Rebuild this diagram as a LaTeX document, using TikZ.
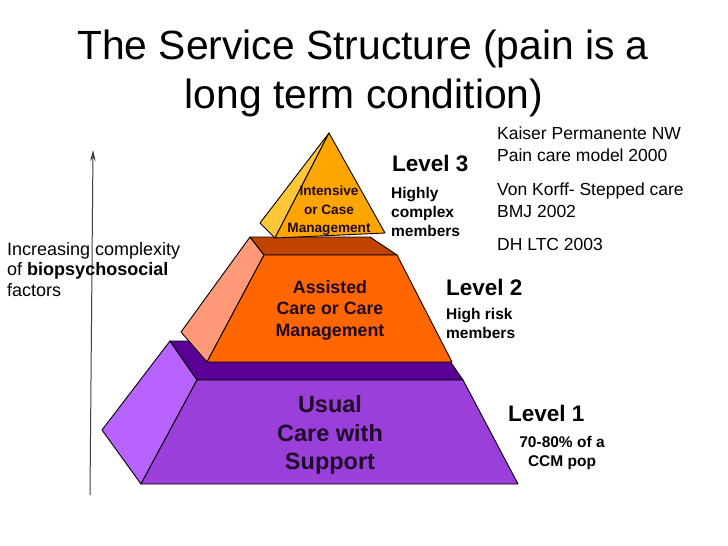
\documentclass[tikz,border=0pt]{standalone}
\usepackage{fontspec}
\setmainfont{Liberation Sans}
\usetikzlibrary{arrows.meta}
\definecolor{purFront}{HTML}{9B3FDB}
\definecolor{purSide}{HTML}{B862FF}
\definecolor{purTop}{HTML}{5A0096}
\definecolor{orFront}{HTML}{FF6600}
\definecolor{orSide}{HTML}{FF9977}
\definecolor{orTop}{HTML}{C04400}
\definecolor{yeFront}{HTML}{FFA500}
\definecolor{yeSide}{HTML}{FFC637}
\definecolor{tierText}{HTML}{1E0A28}
\definecolor{arrowGrey}{HTML}{404040}
\tikzset{
  face/.style={draw=black, line width=0.9pt, line join=round},
  ttl/.style={anchor=base, inner sep=0pt, font=\fontsize{40.8}{40.8}\selectfont},
  refline/.style={anchor=base west, inner sep=0pt, font=\fontsize{17.5}{17.5}\selectfont},
  sideline/.style={anchor=base west, inner sep=0pt, font=\fontsize{18}{18}\selectfont},
  lvl/.style={anchor=base west, inner sep=0pt, font=\bfseries\fontsize{22.5}{22.5}\selectfont},
  subline/.style={anchor=base west, inner sep=0pt, font=\bfseries\fontsize{15.5}{15.5}\selectfont},
  subc/.style={anchor=base, inner sep=0pt, font=\bfseries\fontsize{15.5}{15.5}\selectfont},
  tierA/.style={anchor=base, inner sep=0pt, text=tierText, font=\bfseries\fontsize{23.5}{23.5}\selectfont},
  tierB/.style={anchor=base, inner sep=0pt, text=tierText, font=\bfseries\fontsize{17.8}{17.8}\selectfont},
  tierC/.style={anchor=base, inner sep=0pt, text=tierText, font=\bfseries\fontsize{13.6}{13.6}\selectfont},
  upArrow/.style={draw=arrowGrey, line width=1pt, -{Stealth[length=11pt,width=5.5pt]}}
}
\begin{document}
\begin{tikzpicture}[x=1pt,y=-1pt]
\useasboundingbox (0,0) rectangle (728,546);
\fill[white] (0,0) rectangle (728,546);

% bottom tier
\filldraw[face, fill=purSide] (170,341) -- (102,430) -- (141,484) -- (197,380) -- cycle;
\filldraw[face, fill=purTop] (170,341) -- (436,341) -- (463,380) -- (197,380) -- cycle;
\filldraw[face, fill=purFront] (197,380) -- (463,380) -- (518,484) -- (141,484) -- cycle;

% middle tier
\filldraw[face, fill=orSide] (250,237) -- (181,332) -- (207,362) -- (264,255) -- cycle;
\filldraw[face, fill=orTop] (250,237) -- (370,237) -- (397,255) -- (264,255) -- cycle;
\filldraw[face, fill=orFront] (264,255) -- (397,255) -- (452,362) -- (207,362) -- cycle;

% top pyramid
\filldraw[face, fill=yeSide] (329,133) -- (260,223) -- (275,238) -- cycle;
\filldraw[face, fill=yeFront] (329,133) -- (385,233) -- (275,238) -- cycle;

% arrow
\coordinate (arrBot) at (90,495);
\coordinate (arrTop) at (93,150);
\draw[upArrow] (arrBot) -- (arrTop);

% title
\node[ttl] (t1) at (363,59) {The Service Structure (pain is a};
\node[ttl] (t2) at (364,108) {long term condition)};

% tier texts
\node[tierA] (u1) at (330,412) {Usual};
\node[tierA] (u2) at (330,441) {Care with};
\node[tierA] (u3) at (330,469) {Support};
\node[tierB] (a1) at (330,293) {Assisted};
\node[tierB] (a2) at (330,314.5) {Care or Care};
\node[tierB] (a3) at (330,336) {Management};
\node[tierC] (i1) at (329,195) {Intensive};
\node[tierC] (i2) at (329,214) {or Case};
\node[tierC] (i3) at (329,232) {Management};

% level labels
\node[lvl] (l3) at (392,171) {Level 3};
\node[subline] (l3a) at (391,198.5) {Highly};
\node[subline] (l3b) at (391,217.5) {complex};
\node[subline] (l3c) at (391,236) {members};
\node[lvl] (l2) at (446,295) {Level 2};
\node[subline] (l2a) at (446,319) {High risk};
\node[subline] (l2b) at (446,338) {members};
\node[lvl] (l1) at (508,421) {Level 1};
\node[subc] (l1a) at (562,447.5) {70-80\% of a};
\node[subc] (l1b) at (562,466.5) {CCM pop};

% references
\node[refline] (r1) at (497,139.5) {Kaiser Permanente NW};
\node[refline] (r2) at (497,161.5) {Pain care model 2000};
\node[refline] (r3) at (497,195) {Von Korff- Stepped care};
\node[refline] (r4) at (497,217) {BMJ 2002};
\node[refline] (r5) at (497,250) {DH LTC 2003};

% side text
\node[sideline] (s1) at (7,255) {Increasing complexity};
\node[sideline] (s2) at (7,275.5) {of \textbf{biopsychosocial}};
\node[sideline] (s3) at (7,296) {factors};
\end{tikzpicture}
\end{document}
